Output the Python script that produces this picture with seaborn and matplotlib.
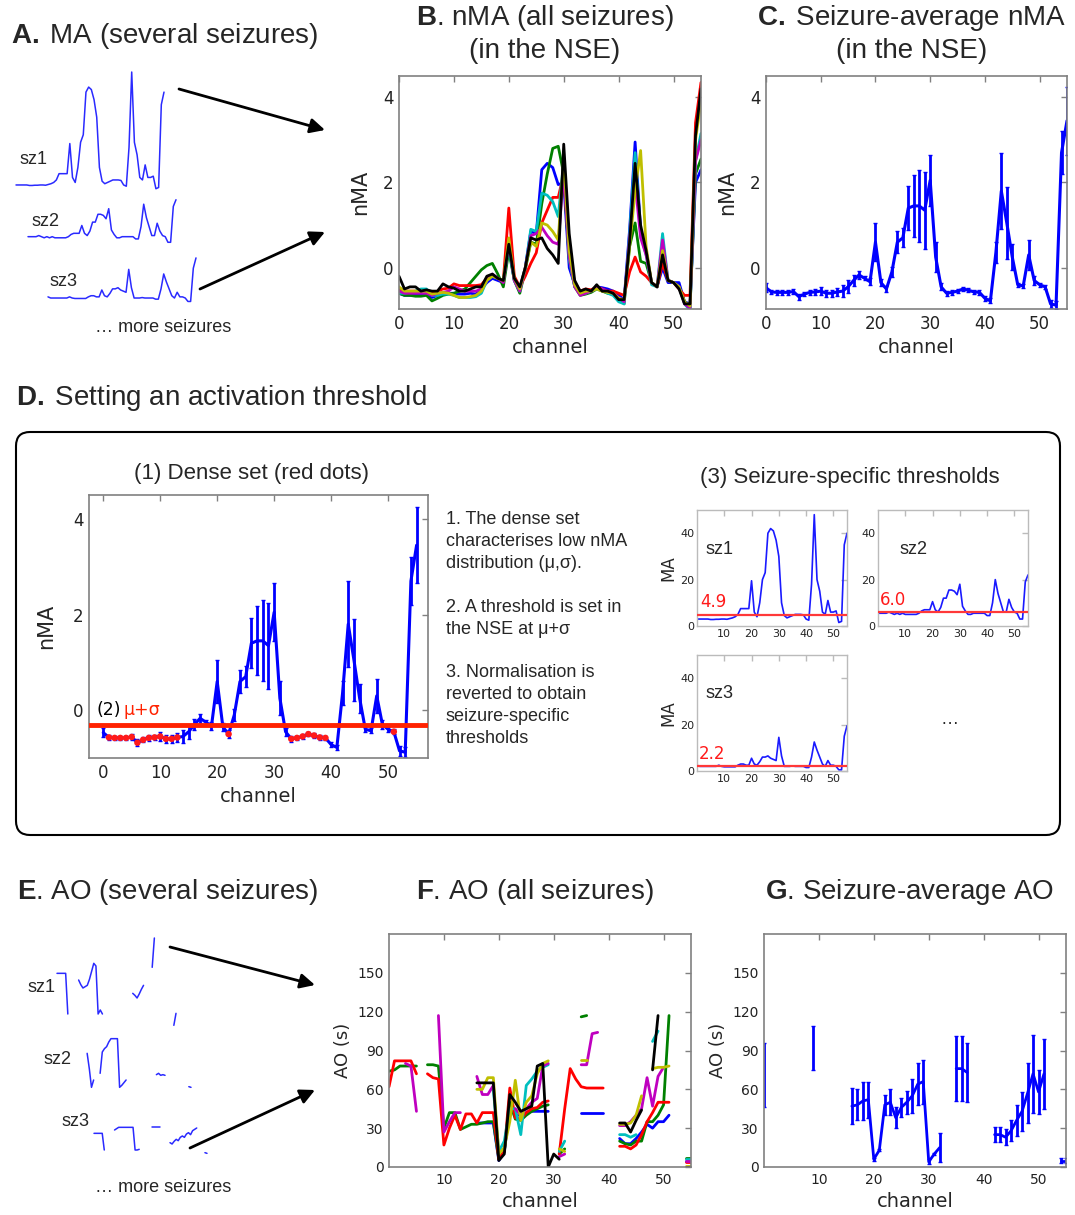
import numpy as np
import pandas as pd
import matplotlib
matplotlib.use("Agg")
import matplotlib.pyplot as plt
from matplotlib.patches import FancyBboxPatch
import seaborn as sns

N = np.nan
channels = np.arange(56)

# ---------------- nMA per seizure (panel B) ----------------
seizure_names = ["s1", "s2", "s3", "s4", "s5", "s6", "s7"]
seizure_colors = ["#0000ff", "#008000", "#ff0000", "#00bfbf", "#bf00bf", "#bfbf00", "#000000"]
nma_blue = [-0.6, -0.65, -0.65, -0.65, -0.65, -0.62, -0.7, -0.65, -0.62, -0.6, -0.6, -0.62, -0.62, -0.6, -0.62, -0.5,
            -0.35, -0.25, -0.3, -0.35, 0.5, -0.3, -0.5, 0.0, 0.85, 0.8, 2.3, 2.45, 2.35, 1.95, 2.0, 0.0, -0.4, -0.6,
            -0.55, -0.55, -0.45, -0.47, -0.5, -0.55, -0.65, -0.75, 0.9, 2.95, 0.9, 0.4, -0.35, -0.45, 0.0, -0.35,
            -0.35, -0.35, -0.8, -0.85, 2.0, 2.3]
nma_green = [-0.6, -0.65, -0.65, -0.67, -0.67, -0.65, -0.78, -0.72, -0.65, -0.62, -0.6, -0.55, -0.5, -0.35, -0.2,
             -0.05, 0.05, 0.1, -0.15, -0.45, 0.4, -0.3, -0.6, -0.05, 0.6, 0.55, 1.5, 2.2, 2.8, 2.85, 2.2, 0.2, -0.45,
             -0.65, -0.62, -0.58, -0.5, -0.55, -0.6, -0.62, -0.7, -0.85, 0.5, 1.05, 0.15, 0.1, -0.35, -0.45, 0.15,
             -0.3, -0.35, -0.45, -0.8, -0.95, 2.2, 2.55]
nma_red = [-0.5, -0.55, -0.55, -0.55, -0.55, -0.55, -0.6, -0.55, -0.5, -0.48, -0.38, -0.42, -0.42, -0.42, -0.42, -0.4,
           -0.25, -0.2, -0.25, -0.3, 1.4, -0.2, -0.45, -0.2, 0.1, 0.35, 1.05, 1.35, 1.65, 1.65, 2.2, 0.3, -0.35, -0.55,
           -0.5, -0.52, -0.45, -0.5, -0.55, -0.55, -0.6, -0.65, -0.1, 0.25, -0.1, -0.2, -0.35, -0.45, 0.1, -0.3,
           -0.35, -0.5, -0.65, -0.65, 3.4, 4.35]
nma_cyan = [-0.6, -0.6, -0.58, -0.55, -0.5, -0.5, -0.65, -0.65, -0.62, -0.62, -0.65, -0.7, -0.7, -0.7, -0.68, -0.6,
            -0.3, -0.2, -0.25, -0.3, 0.5, -0.3, -0.55, 0.0, 0.9, 0.85, 1.75, 1.7, 1.55, 1.2, 2.5, 0.2, -0.45, -0.6,
            -0.6, -0.55, -0.5, -0.52, -0.6, -0.65, -0.8, -0.85, 0.8, 2.7, 0.8, 0.3, -0.4, -0.45, 0.8, -0.3, -0.35,
            -0.45, -0.85, -1.0, 2.5, 3.15]
nma_magenta = [-0.55, -0.6, -0.6, -0.6, -0.6, -0.6, -0.65, -0.6, -0.58, -0.55, -0.45, -0.5, -0.55, -0.55, -0.55,
               -0.5, -0.3, -0.15, -0.25, -0.35, 0.6, -0.3, -0.55, 0.0, 0.75, 0.8, 0.95, 0.75, 0.6, 0.55, 2.3, 0.25,
               -0.45, -0.65, -0.6, -0.55, -0.48, -0.5, -0.55, -0.6, -0.7, -0.8, 0.7, 2.0, 0.7, 0.3, -0.35, -0.45,
               0.65, -0.3, -0.35, -0.45, -0.85, -0.95, 2.5, 3.0]
nma_yellow = [-0.45, -0.55, -0.55, -0.55, -0.55, -0.55, -0.62, -0.6, -0.58, -0.6, -0.65, -0.7, -0.7, -0.68, -0.65,
              -0.55, -0.3, -0.2, -0.25, -0.3, 0.7, -0.25, -0.5, 0.0, 0.6, 0.5, 1.05, 1.0, 0.85, 0.65, 2.6, 0.4, -0.4,
              -0.6, -0.55, -0.55, -0.5, -0.55, -0.58, -0.6, -0.72, -0.75, 0.5, 1.8, 2.75, 0.5, -0.35, -0.45, 0.4,
              -0.3, -0.35, -0.45, -0.8, -0.9, 3.0, 3.9]
nma_black = [-0.2, -0.5, -0.45, -0.45, -0.55, -0.52, -0.55, -0.55, -0.38, -0.45, -0.48, -0.55, -0.55, -0.5, -0.45,
             -0.45, -0.2, -0.15, -0.25, -0.3, 0.55, -0.25, -0.45, 0.0, 0.7, 0.65, 0.7, 0.45, 0.3, 0.1, 2.9, 0.8, -0.3,
             -0.55, -0.5, -0.55, -0.4, -0.55, -0.55, -0.6, -0.75, -0.75, 0.6, 2.45, 1.0, 0.4, -0.35, -0.45, 0.3,
             -0.3, -0.35, -0.5, -0.85, -0.85, 3.1, 4.2]

# ---------------- seizure-average nMA (panels C, D) ----------------
mean_nma = [-0.47, -0.57, -0.58, -0.58, -0.58, -0.56, -0.68, -0.62, -0.58, -0.57, -0.55, -0.6, -0.6, -0.57, -0.55,
            -0.45, -0.3, -0.17, -0.25, -0.33, 0.6, -0.35, -0.5, -0.1, 0.6, 0.7, 1.4, 1.45, 1.45, 1.35, 2.05, 0.25,
            -0.45, -0.6, -0.58, -0.55, -0.5, -0.53, -0.57, -0.58, -0.72, -0.78, 0.35, 1.8, 1.05, 0.25, -0.4, -0.43,
            0.3, -0.3, -0.4, -0.45, -0.85, -0.88, 2.7, 3.45]
sd_nma = [0.1, 0.05, 0.05, 0.05, 0.05, 0.06, 0.07, 0.05, 0.06, 0.06, 0.09, 0.08, 0.08, 0.1, 0.14, 0.15, 0.12, 0.1,
          0.05, 0.08, 0.45, 0.08, 0.08, 0.12, 0.25, 0.22, 0.52, 0.72, 0.85, 0.9, 0.6, 0.35, 0.08, 0.06, 0.05, 0.05,
          0.05, 0.05, 0.05, 0.05, 0.06, 0.06, 0.25, 0.9, 0.85, 0.3, 0.05, 0.05, 0.35, 0.1, 0.05, 0.05, 0.1, 0.1,
          0.5, 0.8]
dense_channels = [1, 2, 3, 4, 5, 6, 7, 8, 9, 10, 11, 12, 13, 22, 33, 34, 35, 36, 37, 38, 39, 51]
threshold_nma = -0.3

# ---------------- MA per seizure (panels A, D3) ----------------
ma_sz1 = [3, 3, 3, 3, 3, 2.8, 2.8, 2.9, 2.9, 3, 3, 2.9, 3.2, 3.5, 4, 5, 7.5, 7.5, 7.5, 7.5, 19.5, 6, 4, 10, 20, 23,
          40, 42, 41, 37, 30, 10, 4.5, 3.5, 4, 4.5, 5, 5, 5, 4.8, 3, 2.5, 18, 48, 20, 15, 6, 5, 11, 6, 6, 6.5, 1.5,
          2, 35, 40]
ma_sz2 = [5.5, 5.5, 5.5, 5.5, 6, 5.5, 5, 5.5, 5, 5.5, 5, 5, 5, 5, 5, 5.5, 6.5, 7, 7, 7, 10.5, 7, 6, 8, 12, 12, 15.5,
          15.5, 15, 13.5, 18, 8.5, 6.5, 5, 5, 5.5, 5.5, 5.5, 5.5, 5.5, 4.5, 4.5, 10, 20, 14, 10, 6, 6, 11.5, 8, 6,
          5.5, 3, 3, 19, 22]
ma_sz3 = [2.5, 2, 2, 2, 2, 2, 2, 2, 2.5, 2, 1.8, 1.8, 1.8, 1.8, 1.8, 2.5, 3, 3, 2.5, 2.5, 5.5, 3, 2.5, 4, 6, 6, 6.5,
          5.5, 5, 4.5, 14.5, 6.5, 2, 2, 2, 2.2, 2, 2, 2, 2, 1.5, 1.5, 6, 12.5, 9, 6, 3, 2, 4.5, 2.5, 2.5, 2, 0.5, 0.5,
          15, 19.5]
ma_thresholds = [4.9, 6.0, 2.2]
ma_labels = ["sz1", "sz2", "sz3"]

# ---------------- AO per seizure (panel F) ----------------
ao_blue = [N]*16 + [34, 34, 34, 34, 5, 12, 45, 40, 40, 42, 43, 43, 43, 43, N, N, N, N, N, 42, 42, 42, 42, 42, N, N,
                    22, 18, 18, 22, 27, 33, 30, 35, 35, 40, N, N, 5, 5]
ao_green = [74, 75, 78, 78, 78, 78, N, 79, 79, 78, 30, 42, 42, 29, 31, 33, 33, 34, 35, 35, 6, 12, 50, 37, 36, 40, 43,
            45, 47, 48, N, 10, 14, N, N, 116, 117, N, N, N, N, N, 20, 18, 17, 20, 20, 35, 35, 40, 48, 117, N, N, 7, 7]
ao_red = [62, 82, 82, 82, 82, 72, N, 72, 69, 68, 17, 30, 40, 29, 41, 41, 34, 42, 42, 42, 6, 12, 61, 38, 37, 42, 45,
          46, 50, 51, N, 10, 45, 76, 68, 62, 61, 61, 61, 61, N, N, 16, 16, 14, 17, 25, 35, 42, 50, 50, 50, N, N, 4, 4]
ao_cyan = [N]*19 + [60, 12, 20, 45, 45, 25, 63, 68, 74, 77, 79, N, 12, 20, N, N, N, N, N, N, N, N, N, 25, 25, 23, 25,
                    N, N, 97, 105, N, N, N, N, 6, 6]
ao_magenta = [N, N, N, 80, 78, 43, N, N, N, 117, 27, 35, 42, 42, N, N, 70, 56, 56, 63, N, N, N, 45, 40, 45, 50, 53,
              78, 80, N, 8, 10, N, N, 79, 79, 103, 104, N, N, N, 32, 32, 35, 40, 45, 69, 47, 70, 77, N, N, N, 5, 5]
ao_yellow = [N]*16 + [60, 60, 69, 69, 10, 15, 35, 67, 36, 50, 55, 72, 80, 82, N, 14, 12, N, N, 83, 83, N, N, N, N, N,
                      33, 33, 34, 40, 55, N, 76, 77, 77, 78, N, N, 1, 1]
ao_black = [N]*16 + [65, 65, 65, 65, 5, 10, 56, 50, 43, 45, 47, 78, 80, 0, 10, 6, N, N, N, N, N, N, N, N, N, N,
                     34, 34, 27, 36, 44, N, 75, 117, N, N, N, N, 0, 0]

# ---------------- seizure-average AO (panel G) ----------------
mean_ao = [71, N, N, N, N, N, N, N, N, 92, N, N, N, N, N, N, 47, 48, 51, 52, 6, 13, 48, 50, 38, 46, 50, 55, 64, 66,
           4, 10, 15, N, N, 76, 76, 73, N, N, N, N, 25, 25, 23, 28, 36, 43, 57, 72, 58, 72, N, N, 5, 5]
sd_ao = [25, N, N, N, N, N, N, N, N, 17, N, N, N, N, N, N, 14, 12, 15, 14, 1, 1, 8, 10, 8, 7, 9, 13, 16, 17, 2, 1,
         11, N, N, 25, 25, 23, N, N, N, N, 6, 6, 6, 8, 12, 15, 23, 30, 17, 27, N, N, 2, 2]

# ---------------- AO sketches (panel E) ----------------
e_sz1 = [79, 79, 79, 79, 79, 18, N, N, N, N, 69, 62, 57, 59, 61, 70, 82, 94, 90, 18, 24, 18] + [N]*13 + \
        [49, 46, 42, 48, 55, 61, N, N, N, 88, 132] + [N]*8 + [1, 19]
e_sz2 = [N]*7 + [58, 35, 7, 18, N, N, 28, 60, 65, 68, 75, 80, 80, 80, 80, 7, 10, 14, 18] + [N]*13 + \
        [26, 28, 25, 26, 25] + [N]*10 + [8, 7]
e_sz3 = [34, 34, 34, 34, 34, 9, N, N, N, N, 39, 41, 43, 43, 43, 43, 43, 43, 43, 43, 9, 9, 10, N, N, N, N, N,
         43, 43, 43, 43, 43, N, N, N, N, 20, 18, 22, 25, 23, 28, 30, 28, 33, 35, 32, 38, 40, 42, N, N, N, 5, 4]

# ====================================================================
sns.set_style("white")
plt.rcParams['font.family'] = ['DejaVu Sans']
plt.rcParams['mathtext.fontset'] = 'custom'
plt.rcParams['mathtext.rm'] = 'Liberation Sans'
plt.rcParams['mathtext.bf'] = 'Liberation Sans:bold'
plt.rcParams['mathtext.it'] = 'Liberation Sans:italic'

W, H = 1075, 1215
fig = plt.figure(figsize=(W / 100, H / 100), dpi=100)
fig.patch.set_facecolor('white')

ov = fig.add_axes([0, 0, 1, 1])
ov.set_xlim(0, W)
ov.set_ylim(H, 0)
ov.axis('off')

HEAD = 'Liberation Sans'


def ftext(x, y, s, **kw):
    """Figure-level text positioned in pixel coordinates (top-left origin)."""
    return fig.text(x / W, 1 - y / H, s, zorder=10, **kw)


def pax(x0, y0, x1, y1):
    return fig.add_axes([x0 / W, 1 - y1 / H, (x1 - x0) / W, (y1 - y0) / H])


def style(ax, labelsize=12, spine='#808080', lw=1.2):
    for s in ax.spines.values():
        s.set_visible(True)
        s.set_color(spine)
        s.set_linewidth(lw)
    ax.tick_params(direction='in', top=True, right=True, length=4, width=1, color=spine,
                   labelsize=labelsize, labelcolor='#222222', pad=4)


def long_frame(series, yname):
    parts = []
    for name, vals in series.items():
        v = np.asarray(vals, float)
        seg = np.cumsum(np.isnan(v))
        df = pd.DataFrame({'channel': channels, yname: v, 'seizure': name,
                           'segment': [f"{name}-{s}" for s in seg]})
        parts.append(df.dropna())
    return pd.concat(parts, ignore_index=True)


# ---------------- Panel A ----------------
for vals, box in zip([ma_sz1, ma_sz2, ma_sz3],
                     [(16, 67, 164, 192.5), (28, 137, 176, 249), (48, 188, 196, 302.6)]):
    ax = pax(*box)
    sns.lineplot(x=channels, y=vals, color='#2a2aff', lw=1.1, ax=ax)
    ax.set_xlim(0, 55)
    ax.set_ylim(0, 50)
    ax.axis('off')
    for ln in ax.lines:
        ln.set_clip_on(False)

# ---------------- Panel B ----------------
axB = pax(399, 76, 701, 309)
dfB = long_frame(dict(zip(seizure_names, [nma_blue, nma_green, nma_red, nma_cyan, nma_magenta, nma_yellow,
                                          nma_black])), 'nMA')
sns.lineplot(data=dfB, x='channel', y='nMA', hue='seizure', palette=seizure_colors, units='segment',
             estimator=None, lw=2, legend=False, ax=axB)
axB.set_xlim(0, 55)
axB.set_ylim(-0.97, 4.5)
axB.set_xticks([0, 10, 20, 30, 40, 50])
axB.set_yticks([0, 2, 4])
axB.set_xlabel('channel', fontsize=14)
axB.set_ylabel('nMA', fontsize=15, labelpad=9)
style(axB)

# ---------------- Panel C ----------------
axC = pax(766, 76, 1067, 309)
sns.lineplot(x=channels, y=mean_nma, color='#0000ff', lw=2.2, ax=axC)
axC.errorbar(channels, mean_nma, yerr=sd_nma, fmt='none', ecolor='#0000ff', elinewidth=2, capsize=1.5, capthick=1)
axC.set_xlim(0, 55)
axC.set_ylim(-0.97, 4.5)
axC.set_xticks([0, 10, 20, 30, 40, 50])
axC.set_yticks([0, 2, 4])
axC.set_xlabel('channel', fontsize=14)
axC.set_ylabel('nMA', fontsize=15, labelpad=9)
style(axC)

# ---------------- Panel D (left) ----------------
axD = pax(89, 495, 428, 758)
sns.lineplot(x=channels, y=mean_nma, color='#0000ff', lw=2.2, ax=axD)
axD.errorbar(channels, mean_nma, yerr=sd_nma, fmt='none', ecolor='#0000ff', elinewidth=2, capsize=1.5, capthick=1)
axD.axhline(threshold_nma, color='#ff2200', lw=3.5, zorder=4)
sns.scatterplot(x=dense_channels, y=[mean_nma[c] for c in dense_channels], color='#ff1a1a', s=22,
                edgecolor='none', zorder=5, ax=axD)
axD.set_xlim(-2.5, 57)
axD.set_ylim(-1.0, 4.5)
axD.set_xticks([0, 10, 20, 30, 40, 50])
axD.set_yticks([0, 2, 4])
axD.set_xlabel('channel', fontsize=14)
axD.set_ylabel('nMA', fontsize=15, labelpad=12)
style(axD)

# ---------------- Panel D (right) ----------------
for vals, thr, lab, box, ylab in zip([ma_sz1, ma_sz2, ma_sz3], ma_thresholds, ma_labels,
                                     [(697, 510, 847, 626), (878, 510, 1028, 626), (697, 655, 847, 771)],
                                     [True, False, True]):
    ax = pax(*box)
    sns.lineplot(x=channels, y=vals, color='#1a1aff', lw=1.2, ax=ax)
    ax.axhline(thr, color='#ff3838', lw=1.6, zorder=3)
    ax.set_xlim(0, 55)
    ax.set_ylim(0, 50)
    ax.set_xticks([10, 20, 30, 40, 50])
    ax.set_yticks([0, 20, 40])
    ax.set_xlabel('')
    if ylab:
        ax.set_ylabel('MA', fontsize=12, labelpad=2)
    style(ax, labelsize=8, spine='#bbbbbb', lw=1.0)
    ax.tick_params(pad=2)

# ---------------- Panel E ----------------
for vals, box in zip([e_sz1, e_sz2, e_sz3],
                     [(57, 936, 176, 1026), (72, 1002, 191, 1092), (94, 1066, 207, 1156)]):
    ax = pax(*box)
    dfe = long_frame({'e': vals}, 'AO')
    sns.lineplot(data=dfe, x='channel', y='AO', units='segment', estimator=None, color='#2a2aff', lw=1.1,
                 legend=False, ax=ax)
    ax.set_xlim(0, 55)
    ax.set_ylim(0, 135)
    ax.axis('off')
    for ln in ax.lines:
        ln.set_clip_on(False)

# ---------------- Panel F ----------------
axF = pax(389, 934, 691, 1167)
dfF = long_frame(dict(zip(seizure_names, [ao_blue, ao_green, ao_red, ao_cyan, ao_magenta, ao_yellow,
                                          ao_black])), 'AO')
sns.lineplot(data=dfF, x='channel', y='AO', hue='seizure', palette=seizure_colors, units='segment',
             estimator=None, lw=2, legend=False, ax=axF)
axF.set_xlim(0, 55)
axF.set_ylim(0, 180)
axF.set_xticks([10, 20, 30, 40, 50])
axF.set_yticks([0, 30, 60, 90, 120, 150])
axF.set_xlabel('channel', fontsize=14)
axF.set_ylabel('AO (s)', fontsize=13, labelpad=4)
style(axF, labelsize=10)

# ---------------- Panel G ----------------
axG = pax(764, 934, 1066, 1167)
dfG = long_frame({'mean': mean_ao}, 'AO')
sns.lineplot(data=dfG, x='channel', y='AO', units='segment', estimator=None, color='#0000ff', lw=2,
             legend=False, ax=axG)
axG.errorbar(channels, mean_ao, yerr=sd_ao, fmt='none', ecolor='#0000ff', elinewidth=2, capsize=1.5, capthick=1)
axG.set_xlim(0, 55)
axG.set_ylim(0, 180)
axG.set_xticks([10, 20, 30, 40, 50])
axG.set_yticks([0, 30, 60, 90, 120, 150])
axG.set_xlabel('channel', fontsize=14)
axG.set_ylabel('AO (s)', fontsize=13, labelpad=4)
style(axG, labelsize=10)

# ---------------- Overlay: headings, text, arrows, box ----------------
hk = dict(ha='center', va='center', fontsize=20, family=HEAD)
ftext(165, 36, r"$\mathbf{A.}\;$MA (several seizures)", **hk)
ftext(545, 18, r"$\mathbf{B}$. nMA (all seizures)", **hk)
ftext(545, 51, "(in the NSE)", **hk)
ftext(912, 18, r"$\mathbf{C.}\;$Seizure-average nMA", **hk)
ftext(912, 51, "(in the NSE)", **hk)
ftext(16, 398, r"$\mathbf{D.}\;$Setting an activation threshold", ha='left', va='center', fontsize=20, family=HEAD)
ftext(168, 892, r"$\mathbf{E}$. AO (several seizures)", **hk)
ftext(535, 892, r"$\mathbf{F}$. AO (all seizures)", **hk)
ftext(910, 892, r"$\mathbf{G}$. Seizure-average AO", **hk)

for lab, (x, y) in zip(ma_labels, [(33, 159), (46, 222), (63, 282)]):
    ftext(x, y, lab, ha='center', va='center', fontsize=13, family=HEAD)
ftext(163, 328, "\u2026 more seizures", ha='center', va='center', fontsize=13, family=HEAD)
for lab, (x, y) in zip(ma_labels, [(42, 988), (58, 1060), (75, 1122)]):
    ftext(x, y, lab, ha='center', va='center', fontsize=13, family=HEAD)
ftext(163, 1187, "\u2026 more seizures", ha='center', va='center', fontsize=13, family=HEAD)

arrow = dict(arrowstyle='-|>', color='k', lw=2, mutation_scale=22, shrinkA=0, shrinkB=0)
ov.annotate('', xy=(325, 130), xytext=(179, 89), arrowprops=arrow)
ov.annotate('', xy=(325, 232), xytext=(200, 289), arrowprops=arrow)
ov.annotate('', xy=(315, 985), xytext=(170, 947), arrowprops=arrow)
ov.annotate('', xy=(315, 1090), xytext=(190, 1148), arrowprops=arrow)

ov.add_patch(FancyBboxPatch((16, 432), 1044, 403, boxstyle='round,pad=0,rounding_size=14',
                            fill=False, lw=1.5, ec='k'))

ftext(252, 473, "(1) Dense set (red dots)", ha='center', va='center', fontsize=16, family=HEAD)
ftext(850, 477, "(3) Seizure-specific thresholds", ha='center', va='center', fontsize=16, family=HEAD)
ftext(446, 629, "1. The dense set\ncharacterises low nMA\ndistribution (\u03bc,\u03c3).\n\n"
                "2. A threshold is set in\nthe NSE at \u03bc+\u03c3\n\n"
                "3. Normalisation is\nreverted to obtain\nseizure-specific\nthresholds",
      ha='left', va='center', fontsize=13, family=HEAD, linespacing=1.38)

ftext(96, 710, "(2)", ha='left', va='center', fontsize=12.5, color='k')
ftext(123, 710, "\u03bc+\u03c3", ha='left', va='center', fontsize=12.5, color='#ff2200')

for lab, (x, y) in zip(ma_labels, [(705, 550), (900, 550), (705, 694)]):
    ftext(x, y, lab, ha='left', va='center', fontsize=13, family=HEAD)
for thr, (x, y) in zip(ma_thresholds, [(700, 602), (880, 600), (699, 754)]):
    ftext(x, y, f"{thr:.1f}", ha='left', va='center', fontsize=12, color='#ff1a1a')
ftext(950, 720, "\u2026", ha='center', va='center', fontsize=13, family=HEAD)

fig.savefig("out.png", dpi=100)
